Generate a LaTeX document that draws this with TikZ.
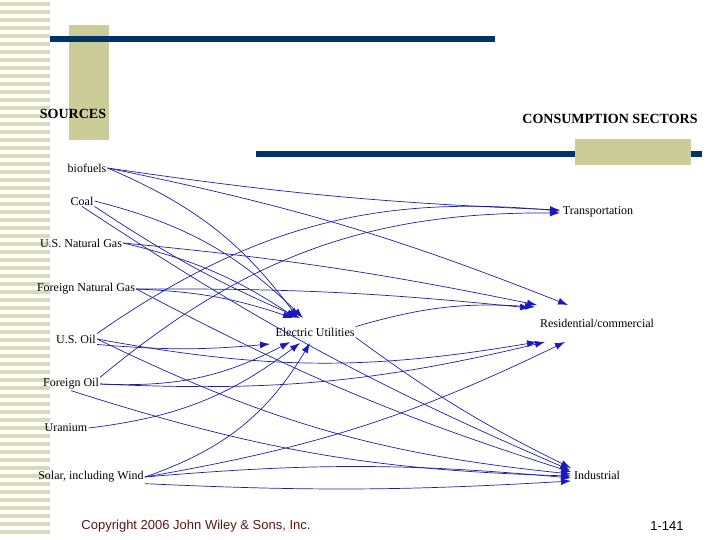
\documentclass[tikz,border=0pt]{standalone}
\usepackage{fontspec}
\setmainfont{Liberation Serif}
\newfontfamily\sansf{Liberation Sans}
\usetikzlibrary{arrows.meta}
\begin{document}
\begin{tikzpicture}[x=1pt,y=-1pt,
  lab/.style={font=\fontsize{12}{13}\selectfont,inner sep=1pt},
  hd/.style={font=\bfseries\fontsize{14}{15}\selectfont},
  fl/.style={draw={rgb,255:red,30;green,30;blue,170},line width=0.7pt,arrows={-{Latex[length=10pt,width=7pt,fill={rgb,255:red,20;green,20;blue,220}]}}}]
\useasboundingbox (0,0) rectangle (720,540);
\definecolor{tan}{RGB}{204,204,153}
\definecolor{strip}{RGB}{218,218,185}
\definecolor{navy}{RGB}{0,51,102}
\foreach \i in {0,...,66} {\fill[strip] (0,{\i*8+2}) rectangle (50,{\i*8+6});}
\fill[tan] (69,25) rectangle (109,140);
\fill[navy] (50,36) rectangle (495,42);
\fill[navy] (256,151) rectangle (702,157);
\fill[tan] (575,139) rectangle (691,165);
\node[hd] (src) at (73,114) {SOURCES};
\node[hd] (cons) at (610,119) {CONSUMPTION SECTORS};
\node[lab] (bio) at (87,168) {biofuels};
\node[lab] (coal) at (82,201) {Coal};
\node[lab] (usng) at (81,243) {U.S. Natural Gas};
\node[lab] (fng) at (86,289) {Foreign Natural Gas};
\node[lab] (usoil) at (76,339) {U.S. Oil};
\node[lab] (foil) at (71,384) {Foreign Oil};
\node[lab] (ur) at (66,428) {Uranium};
\node[lab] (sol) at (91,477) {Solar, including Wind};
\node[lab] (eu) at (315,332) {Electric Utilities};
\node[lab] (tr) at (598,212) {Transportation};
\node[lab] (res) at (597,323) {Residential/commercial};
\node[lab] (ind) at (597,475) {Industrial};
\node[font=\sansf\fontsize{13}{15}\selectfont,text={rgb,255:red,90;green,20;blue,20}] (cr) at (196,526) {Copyright 2006 John Wiley \& Sons, Inc.};
\node[font=\sansf\fontsize{13}{15}\selectfont] (pg) at (667,526) {1-141};
% to Electric Utilities
\draw[fl] (bio.east) to[bend left=15] (298,318);
\draw[fl] (coal.south east) to[bend right=5] (300,318);
\draw[fl] (coal.east) to[bend left=15] (303,318);
\draw[fl] (usng.east) to[bend left=10] (296,318);
\draw[fl] (fng.east) to[bend left=8] (293,318);
\draw[fl] (usoil.south east) to[bend right=5] (270,344);
\draw[fl] (foil.east) to[bend right=15] (290,342);
\draw[fl] (ur.east) to[bend right=15] (300,343);
\draw[fl] (sol.east) to[bend right=20] (310,343);
% to Transportation
\draw[fl] (bio.east) to[bend left=-3] (560,210);
\draw[fl] (usoil.north east) to[bend left=20] (560,211);
\draw[fl] (foil.north east) to[bend left=20] (560,213);
% to Residential
\draw[fl] (bio.east) to[bend left=5] (568,305);
\draw[fl] (usng.east) to[bend left=3] (537,305);
\draw[fl] (fng.east) to[bend left=3] (530,308);
\draw[fl] (eu.north east) to[bend left=10] (535,307);
\draw[fl] (usoil.east) to[bend right=10] (537,342);
\draw[fl] (foil.east) to[bend right=8] (545,342);
\draw[fl] (sol.east) to[bend right=8] (565,342);
% to Industrial
\draw[fl] (coal.south) to[bend right=5] (570,470);
\draw[fl] (fng.east) to[bend right=5] (571,472);
\draw[fl] (eu.south east) to[bend left=-5] (571,468);
\draw[fl] (usoil.east) to[bend right=10] (571,474);
\draw[fl] (foil.south) to[bend right=8] (571,476);
\draw[fl] (sol.east) to[bend left=5] (571,478);
\draw[fl] (sol.south east) to[bend right=3] (571,481);
\end{tikzpicture}
\end{document}
